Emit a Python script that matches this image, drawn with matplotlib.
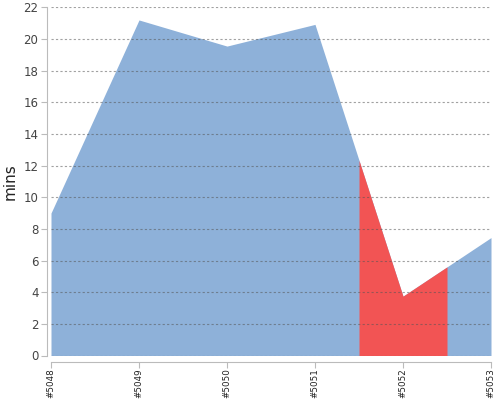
import numpy as np
import matplotlib
matplotlib.use("Agg")
import matplotlib.pyplot as plt

builds = ["#5048", "#5049", "#5050", "#5051", "#5052", "#5053"]
mins = [9.0, 21.2, 19.55, 20.92, 3.75, 7.45]
highlight = 4  # build shown in red
y_ticks = list(range(0, 23, 2))

blue = "#8eb1d9"
red = "#f25454"

fig = plt.figure(figsize=(5, 4), dpi=100)
ax = fig.add_axes([51 / 500, 44.5 / 400, 440 / 500, 348.2 / 400])

x = np.arange(len(builds))
ax.fill_between(x, mins, 0, color=blue, linewidth=0, zorder=1)

# red band around the highlighted build, +-half a step
xs = np.linspace(highlight - 0.5, highlight + 0.5, 101)
ax.fill_between(xs, np.interp(xs, x, mins), 0, color=red, linewidth=0, zorder=2)

ax.set_xlim(0, len(builds) - 1)
ax.set_ylim(0, 22)
ax.set_yticks(y_ticks)
ax.set_xticks(x)
ax.set_xticklabels(builds)
ax.tick_params(axis="y", labelsize=8.5, labelcolor="#444", color="#bbb", length=4, pad=2)
ax.tick_params(axis="x", labelsize=6.3, labelcolor="#222", labelrotation=90,
               color="#bbb", length=4, pad=0.5)

ax.yaxis.grid(True, linestyle=(0, (2, 2)), color="#555", alpha=0.55, linewidth=0.8, zorder=3)
ax.set_axisbelow(False)

for s in ["top", "right"]:
    ax.spines[s].set_visible(False)
ax.spines["left"].set_position(("outward", 3))
ax.spines["bottom"].set_position(("outward", 4.5))
ax.spines["left"].set_color("#bbb")
ax.spines["bottom"].set_color("#bbb")

ax.set_ylabel("mins", fontsize=11, color="#222", labelpad=4)

fig.savefig("out.png", dpi=100)
